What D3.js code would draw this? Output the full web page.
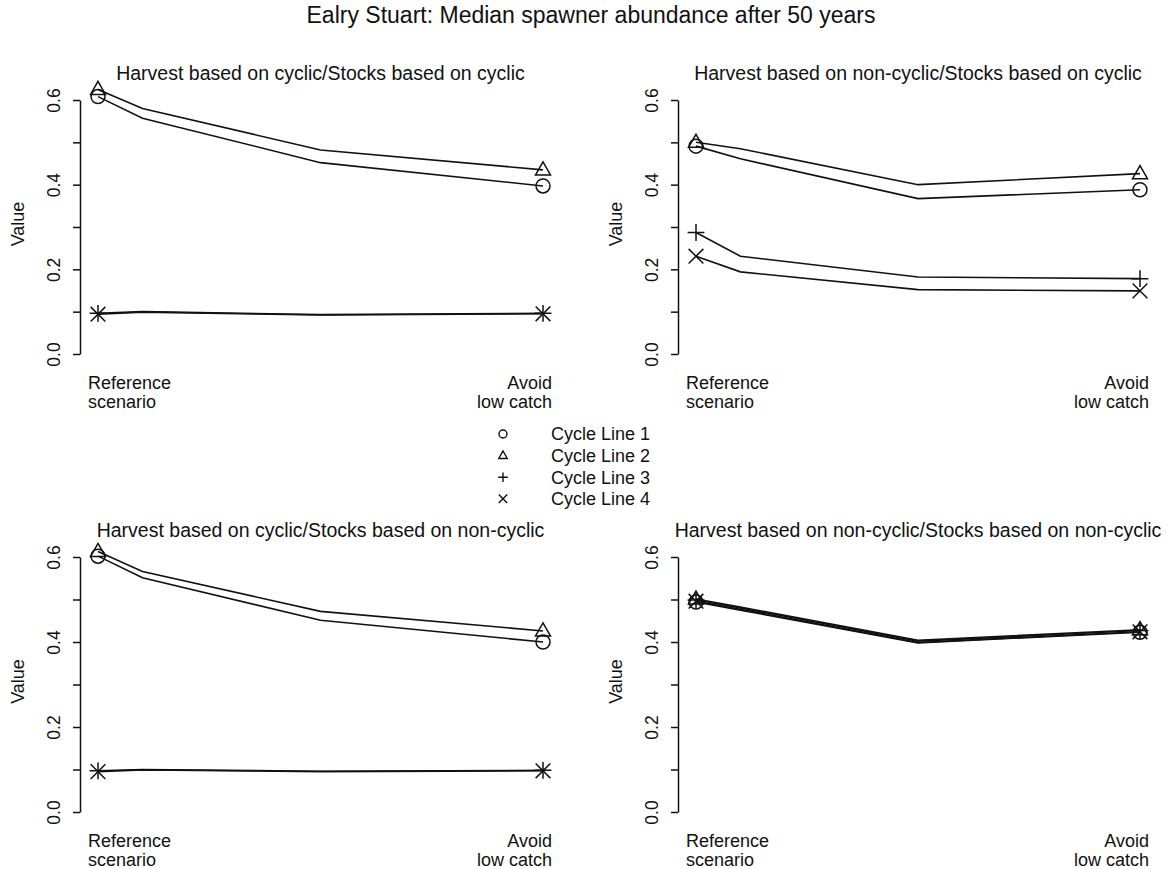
<!DOCTYPE html>
<html>
<head>
<meta charset="utf-8">
<script src="https://cdn.jsdelivr.net/npm/d3@7"></script>
<style>
  body { margin: 0; background: #fff; }
  svg text { font-family: "Liberation Sans", Arial, sans-serif; fill: #111; }
</style>
</head>
<body>
<div id="chart"></div>
<script>
// scenario positions along x (0 = reference, 10 = avoid low catch)
var scenarioX = [0, 1, 5, 10];
var xLabelsLeft = ["Reference", "scenario"];
var xLabelsRight = ["Avoid", "low catch"];
var seriesNames = ["Cycle Line 1", "Cycle Line 2", "Cycle Line 3", "Cycle Line 4"];
var seriesShapes = ["circle", "triangle", "plus", "cross"];
var yTicks = [0, 0.1, 0.2, 0.3, 0.4, 0.5, 0.6];

var mainTitle = "Ealry Stuart: Median spawner abundance after 50 years";
var panelTitles = [
    "Harvest based on cyclic/Stocks based on cyclic",
    "Harvest based on non-cyclic/Stocks based on cyclic",
    "Harvest based on cyclic/Stocks based on non-cyclic",
    "Harvest based on non-cyclic/Stocks based on non-cyclic"
];

// values per panel, one row per cycle line
var cyclicCyclic = [
    [0.608, 0.557, 0.452, 0.397],
    [0.625, 0.580, 0.482, 0.435],
    [0.096, 0.100, 0.093, 0.096],
    [0.094, 0.099, 0.092, 0.095]
];
var noncyclicCyclic = [
    [0.491, 0.461, 0.367, 0.388],
    [0.500, 0.485, 0.400, 0.426],
    [0.287, 0.231, 0.182, 0.178],
    [0.231, 0.194, 0.152, 0.149]
];
var cyclicNoncyclic = [
    [0.602, 0.551, 0.451, 0.400],
    [0.613, 0.566, 0.472, 0.426],
    [0.097, 0.100, 0.096, 0.098],
    [0.095, 0.099, 0.095, 0.097]
];
var noncyclicNoncyclic = [
    [0.494, 0.475, 0.398, 0.423],
    [0.501, 0.482, 0.404, 0.429],
    [0.499, 0.480, 0.402, 0.427],
    [0.496, 0.477, 0.399, 0.424]
];
var panelData = [cyclicCyclic, noncyclicCyclic, cyclicNoncyclic, noncyclicNoncyclic];

var w = 1172;
var h = 869;

var svg = d3.select("#chart").append("svg")
    .attr("width", w)
    .attr("height", h);

svg.append("text")
    .attr("x", 591)
    .attr("y", 23)
    .attr("text-anchor", "middle")
    .style("font-size", "23px")
    .text(mainTitle);

// plot areas for the 2 x 2 grid
var cols = [{x0: 98, x1: 543, axisX: 80}, {x0: 696, x1: 1140, axisX: 678}];
var rows = [{yTop: 100, yBot: 354}, {yTop: 557, yBot: 812}];

function circlePath(r) {
    var p = d3.path();
    p.arc(0, 0, r, 0, 2 * Math.PI);
    p.closePath();
    return p.toString();
}

function shapePath(shape, s) {
    if (shape === "circle") {
        return circlePath(s);
    }
    if (shape === "triangle") {
        var hw = s * 1.07, top = -s * 1.15, bot = s * 0.72;
        return "M0," + top + "L" + hw + "," + bot + "L" + (-hw) + "," + bot + "Z";
    }
    if (shape === "plus") {
        var a = s * 1.2;
        return "M" + (-a) + ",0L" + a + ",0M0," + (-a) + "L0," + a;
    }
    var b = s * 1.05;
    return "M" + (-b) + "," + (-b) + "L" + b + "," + b + "M" + (-b) + "," + b + "L" + b + "," + (-b);
}

panelData.forEach(function(series, pi) {
    var col = cols[pi % 2];
    var row = rows[Math.floor(pi / 2)];

    var x = d3.scaleLinear().domain([0, 10]).range([col.x0, col.x1]);
    var y = d3.scaleLinear().domain([0, 0.6]).range([row.yBot, row.yTop]);

    var g = svg.append("g");

    // panel title
    g.append("text")
        .attr("x", (col.axisX + col.x1 + (col.x0 - col.axisX)) / 2)
        .attr("y", row.yTop - 20)
        .attr("text-anchor", "middle")
        .style("font-size", "19.5px")
        .text(panelTitles[pi]);

    // y axis
    var yAxis = d3.axisLeft(y)
        .tickValues(yTicks)
        .tickSize(7)
        .tickSizeOuter(0)
        .tickFormat(function(d) {
            return Math.round(d * 10) % 2 === 0 ? d3.format(".1f")(d) : "";
        });

    var ax = g.append("g")
        .attr("transform", "translate(" + col.axisX + ",0)")
        .call(yAxis);
    ax.select(".domain").attr("stroke", "#111").attr("stroke-width", 1.5);
    ax.selectAll(".tick line").attr("stroke", "#111").attr("stroke-width", 1.5);
    ax.selectAll(".tick text")
        .attr("x", 0)
        .attr("dy", "0.35em")
        .attr("text-anchor", "middle")
        .attr("transform", "translate(-26,0) rotate(-90)")
        .style("font-size", "17.5px")
        .style("font-family", "Liberation Sans, Arial, sans-serif")
        .attr("fill", "#111");

    // y axis title
    g.append("text")
        .attr("transform", "translate(" + (col.axisX - 62) + "," + ((row.yTop + row.yBot) / 2 - 3) + ") rotate(-90)")
        .attr("text-anchor", "middle")
        .attr("dy", "0.35em")
        .style("font-size", "18px")
        .text("Value");

    // x labels
    xLabelsLeft.forEach(function(t, i) {
        g.append("text")
            .attr("x", x(scenarioX[0]) - 10)
            .attr("y", row.yBot + 35 + i * 18.5)
            .attr("text-anchor", "start")
            .style("font-size", "18px")
            .text(t);
    });
    xLabelsRight.forEach(function(t, i) {
        g.append("text")
            .attr("x", x(scenarioX[scenarioX.length - 1]) + 9)
            .attr("y", row.yBot + 35 + i * 18.5)
            .attr("text-anchor", "end")
            .style("font-size", "18px")
            .text(t);
    });

    var line = d3.line()
        .x(function(d, i) { return x(scenarioX[i]); })
        .y(function(d) { return y(d); });

    g.selectAll("path.series")
        .data(series)
        .enter()
        .append("path")
        .attr("class", "series")
        .attr("d", line)
        .attr("fill", "none")
        .attr("stroke", "#111")
        .attr("stroke-width", 1.6);

    // markers at the first and last scenario
    series.forEach(function(vals, si) {
        [0, vals.length - 1].forEach(function(k) {
            g.append("path")
                .attr("transform", "translate(" + x(scenarioX[k]) + "," + y(vals[k]) + ")")
                .attr("d", shapePath(seriesShapes[si], 7))
                .attr("fill", "none")
                .attr("stroke", "#111")
                .attr("stroke-width", 1.5);
        });
    });
});

// legend
var legend = svg.append("g");
seriesNames.forEach(function(name, i) {
    var cy = 434 + i * 21.6;
    legend.append("path")
        .attr("transform", "translate(503," + cy + ")")
        .attr("d", shapePath(seriesShapes[i], 4))
        .attr("fill", "none")
        .attr("stroke", "#111")
        .attr("stroke-width", 1.4);
    legend.append("text")
        .attr("x", 551)
        .attr("y", cy)
        .attr("dy", "0.35em")
        .style("font-size", "18px")
        .text(name);
});
</script>
</body>
</html>
